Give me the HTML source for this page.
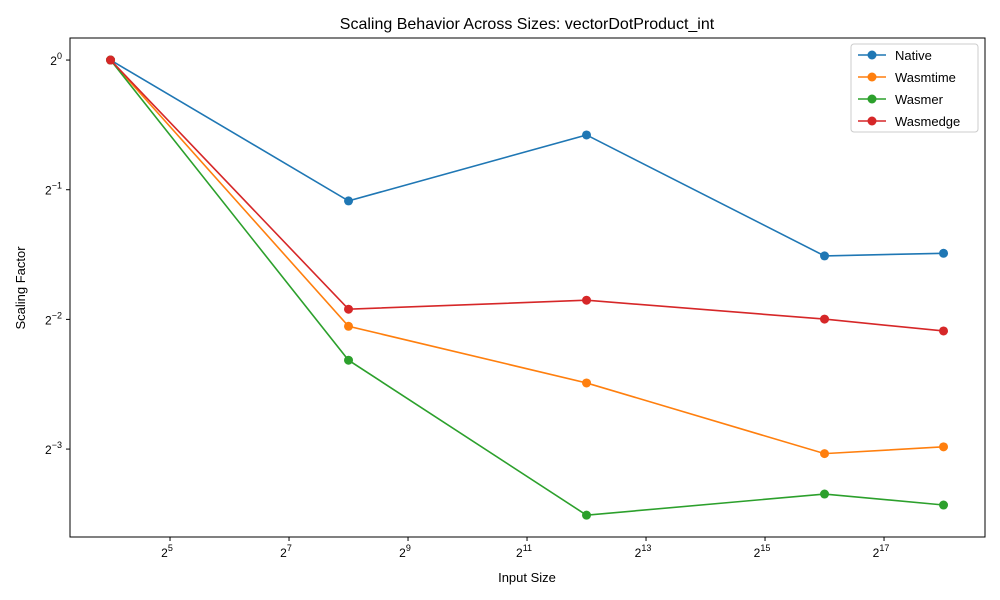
<!DOCTYPE html>
<html><head><meta charset="utf-8"><style>
body{margin:0;background:#fff;font-family:"Liberation Sans","DejaVu Sans",sans-serif}
svg{display:block}
</style></head><body>
<svg id="chart" width="1000" height="600" xmlns="http://www.w3.org/2000/svg"></svg>
<script>
const sizes=[16,256,4096,65536,262144];
const seriesNames=["Native","Wasmtime","Wasmer","Wasmedge"];
const colors=["#1f77b4","#ff7f0e","#2ca02c","#d62728"];
const nativeVals=[1,0.471,0.670,0.351,0.356];
const wasmtimeVals=[1,0.241,0.178,0.122,0.1265];
const wasmerVals=[1,0.201,0.0878,0.0983,0.0927];
const wasmedgeVals=[1,0.264,0.277,0.2504,0.235];
const xTickExps=[5,7,9,11,13,15,17];
const yTickExps=[0,-1,-2,-3];
const allVals=[nativeVals,wasmtimeVals,wasmerVals,wasmedgeVals];
const L=70,R=985,T=38,B=537;
const xMin=3.319,xMax=18.697,yMin=-3.678,yMax=0.17;
const X=v=>L+(Math.log2(v)-xMin)/(xMax-xMin)*(R-L);
const Y=v=>B-(Math.log2(v)-yMin)/(yMax-yMin)*(B-T);
const svg=document.getElementById('chart');
const NS="http://www.w3.org/2000/svg";
function mk(tag,attrs,parent){const e=document.createElementNS(NS,tag);for(const k in attrs)e.setAttribute(k,attrs[k]);(parent||svg).appendChild(e);return e;}
const t=mk('text',{x:527,y:29,'text-anchor':'middle','font-size':16,fill:'#000'});


t.textContent="Scaling Behavior Across Sizes: vectorDotProduct_int";
xTickExps.forEach(e=>{const x=X(Math.pow(2,e));
 mk('line',{x1:x,x2:x,y1:B,y2:B+4,stroke:'#000'});
 const tx=mk('text',{x:x-3,y:B+20,'text-anchor':'middle','font-size':12});
 
 
 tx.innerHTML='2<tspan dy="-6" font-size="9">'+e+'</tspan>';});
yTickExps.forEach(e=>{const y=Y(Math.pow(2,e));
 mk('line',{x1:L-4,x2:L,y1:y,y2:y,stroke:'#000'});
 const tx=mk('text',{x:L-8,y:y+5,'text-anchor':'end','font-size':12});
 
 
 tx.innerHTML='2<tspan dy="-6" font-size="9">'+(e<0?'\u2212'+(-e):e)+'</tspan>';});
const xl=mk('text',{x:527,y:582,'text-anchor':'middle','font-size':13});


xl.textContent="Input Size";
const yl=mk('text',{x:25,y:288,'text-anchor':'middle','font-size':13,transform:'rotate(-90 25 288)'});


yl.textContent="Scaling Factor";
allVals.forEach((vals,i)=>{
 const g=mk('g',{});
 
 
 mk('polyline',{points:vals.map((v,j)=>X(sizes[j])+','+Y(v)).join(' '),fill:'none',stroke:colors[i],'stroke-width':1.6},g);
 vals.forEach((v,j)=>{const c=mk('circle',{cx:X(sizes[j]),cy:Y(v),r:4.5,fill:colors[i]},g);
  
  });
});
const frame=mk('rect',{x:L,y:T,width:R-L,height:B-T,fill:'none',stroke:'#000','stroke-width':1});


const lg=mk('g',{});


mk('rect',{x:851,y:44,width:127,height:88,fill:'#fff',stroke:'#ccc',rx:3},lg);
seriesNames.forEach((n,i)=>{const y=55+i*22;
 const e=mk('g',{},lg);
 
 
 mk('line',{x1:858,x2:886,y1:y,y2:y,stroke:colors[i],'stroke-width':1.6},e);
 mk('circle',{cx:872,cy:y,r:4.5,fill:colors[i]},e);
 const tx=mk('text',{x:895,y:y+5,'font-size':13},e);tx.textContent=n;});
</script>
</body></html>
